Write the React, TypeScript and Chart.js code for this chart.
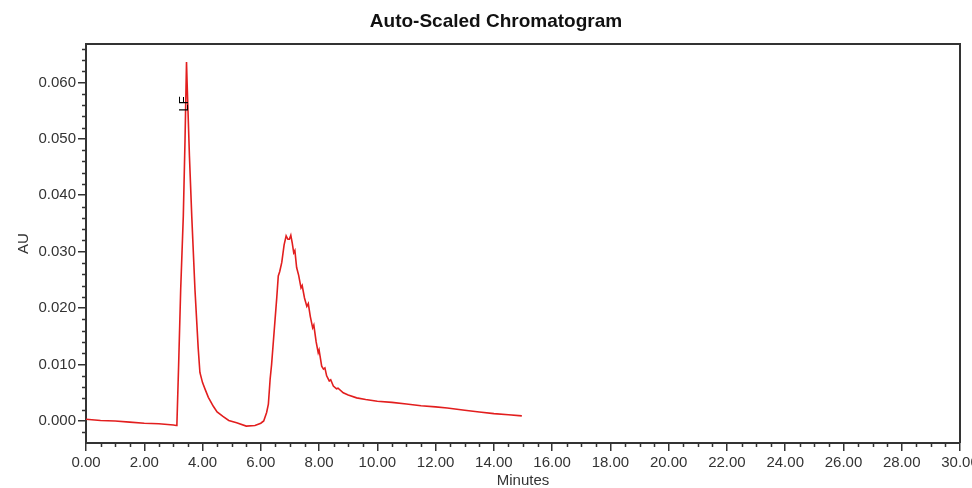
import { useEffect, useRef } from "react";
import { Chart, registerables } from "chart.js";

Chart.register(...registerables);

const TITLE = "Auto-Scaled Chromatogram";
const X_LABEL = "Minutes";
const Y_LABEL = "AU";

const minutes = [
  0.0, 0.5, 1.0, 1.5, 2.0, 2.5, 3.0, 3.1,
  3.12, 3.18, 3.25, 3.34, 3.4, 3.45, 3.47, 3.55, 3.63, 3.74, 3.85, 3.91,
  4.0, 4.09, 4.2, 4.37, 4.5, 4.7, 4.9, 5.17, 5.5, 5.8, 6.0, 6.1,
  6.2, 6.26, 6.32, 6.37, 6.43, 6.49, 6.55, 6.6, 6.65, 6.72, 6.8, 6.87,
  6.93, 6.98, 7.03, 7.08, 7.13, 7.17, 7.23, 7.3, 7.38, 7.42, 7.5, 7.58,
  7.63, 7.7, 7.78, 7.82, 7.9, 7.97, 8.0, 8.09, 8.15, 8.2, 8.26, 8.35,
  8.4, 8.49, 8.6, 8.65, 8.83, 9.0, 9.29, 9.6, 10.0, 10.5, 11.0, 11.5,
  12.0, 12.4, 13.0, 13.5, 14.0, 14.5, 14.96,
];

const au = [
  0.0003, 0.0001, 0.0, -0.0002, -0.0004, -0.0005, -0.0007, -0.0008,
  -0.0006, 0.01, 0.0233, 0.0363, 0.05, 0.0636, 0.06, 0.047, 0.0363, 0.0233, 0.013, 0.0086,
  0.0068, 0.0056, 0.0042, 0.0026, 0.0016, 0.0008, 0.0001, -0.0003, -0.0009, -0.0008, -0.0004, 0.0,
  0.0015, 0.003, 0.0074, 0.01, 0.014, 0.018, 0.022, 0.0257, 0.0265, 0.0281, 0.0312, 0.0328,
  0.0322, 0.0322, 0.0329, 0.0315, 0.0298, 0.0302, 0.0272, 0.0258, 0.0236, 0.024, 0.0218, 0.0203,
  0.0208, 0.0185, 0.0165, 0.017, 0.014, 0.0121, 0.0126, 0.0097, 0.0092, 0.0094, 0.008, 0.0071,
  0.0073, 0.0062, 0.0057, 0.0058, 0.005, 0.0046, 0.0041, 0.0038, 0.0035, 0.0033, 0.003, 0.0027,
  0.0025, 0.0023, 0.0019, 0.0016, 0.0013, 0.0011, 0.0009,
];

const X_MIN = 0;
const X_MAX = 30;
const X_STEP = 2;
const X_MINOR = 0.5;
const Y_MIN = -0.0039;
const Y_MAX = 0.0668;
const Y_STEP = 0.01;
const Y_MINOR = 0.002;

const markLabels = ["LF"];
const markMinutes = [3.38];
const markAu = [0.0562];

const AXIS_COLOR = "#333333";
const LINE_COLOR = "rgb(226, 30, 30)";
const FONT = "'Liberation Sans', Arial, sans-serif";

export default function App() {
  const canvasRef = useRef<HTMLCanvasElement | null>(null);

  useEffect(() => {
    const canvas = canvasRef.current;
    if (!canvas) return;

    const decor = {
      id: "decor",
      afterDraw(chart: any) {
        const ctx = chart.ctx;
        const { left, right, top, bottom } = chart.chartArea;
        const xs = chart.scales.x;
        const ys = chart.scales.y;
        ctx.save();
        ctx.strokeStyle = AXIS_COLOR;
        ctx.lineWidth = 2;
        ctx.beginPath();
        ctx.moveTo(left, top);
        ctx.lineTo(right, top);
        ctx.lineTo(right, bottom);
        ctx.stroke();
        ctx.lineWidth = 1.5;
        // minor x ticks
        ctx.beginPath();
        const nx = Math.round((X_MAX - X_MIN) / X_MINOR);
        for (let i = 0; i <= nx; i++) {
          const v = X_MIN + i * X_MINOR;
          if (Math.abs(v / X_STEP - Math.round(v / X_STEP)) < 1e-6) continue;
          const px = Math.round(xs.getPixelForValue(v)) + 0.5;
          ctx.moveTo(px, bottom);
          ctx.lineTo(px, bottom + 4);
        }
        // minor y ticks
        const startY = Math.ceil(Y_MIN / Y_MINOR);
        const endY = Math.floor(Y_MAX / Y_MINOR);
        for (let k = startY; k <= endY; k++) {
          if (k % 5 === 0) continue;
          const py = Math.round(ys.getPixelForValue(k * Y_MINOR)) + 0.5;
          ctx.moveTo(left, py);
          ctx.lineTo(left - 4, py);
        }
        ctx.stroke();
        // title
        ctx.fillStyle = "#111";
        ctx.font = `bold 19px ${FONT}`;
        ctx.textAlign = "center";
        ctx.textBaseline = "middle";
        ctx.fillText(TITLE, 496, 22);
        // peak marks
        ctx.font = `13px ${FONT}`;
        ctx.fillStyle = "#000";
        for (let i = 0; i < markLabels.length; i++) {
          const px = xs.getPixelForValue(markMinutes[i]);
          const py = ys.getPixelForValue(markAu[i]);
          ctx.save();
          ctx.translate(px, py);
          ctx.rotate(-Math.PI / 2);
          ctx.fillText(markLabels[i], 0, 0);
          ctx.restore();
        }
        ctx.restore();
      },
    };

    const chart = new Chart(canvas, {
      type: "line",
      data: {
        datasets: [
          {
            data: minutes.map((m, i) => ({ x: m, y: au[i] })),
            borderColor: LINE_COLOR,
            borderWidth: 1.6,
            pointRadius: 0,
            tension: 0,
            fill: false,
          },
        ],
      },
      options: {
        animation: false,
        responsive: false,
        devicePixelRatio: 1,
        layout: { padding: { left: 0, right: 12, top: 44, bottom: 0 } },
        plugins: {
          legend: { display: false },
          tooltip: { enabled: false },
          title: { display: false },
        },
        scales: {
          x: {
            type: "linear",
            min: X_MIN,
            max: X_MAX,
            grid: {
              display: true,
              drawOnChartArea: false,
              drawTicks: true,
              tickLength: 8,
              color: AXIS_COLOR,
              lineWidth: 1.5,
            },
            border: { display: true, color: AXIS_COLOR, width: 2 },
            ticks: {
              stepSize: X_STEP,
              includeBounds: false,
              maxRotation: 0,
              autoSkip: false,
              padding: 3,
              color: "#333",
              font: { family: FONT, size: 15 },
              callback: (v: any) => Number(v).toFixed(2),
            },
            title: {
              display: true,
              text: X_LABEL,
              color: "#333",
              font: { family: FONT, size: 15, lineHeight: 1 },
              padding: { top: 0, bottom: 0 },
            },
            afterFit: (s: any) => {
              s.height = 45;
              s.paddingLeft = 0;
              s.paddingRight = 0;
            },
          },
          y: {
            type: "linear",
            min: Y_MIN,
            max: Y_MAX,
            grid: {
              display: true,
              drawOnChartArea: false,
              drawTicks: true,
              tickLength: 8,
              color: AXIS_COLOR,
              lineWidth: 1.5,
            },
            border: { display: true, color: AXIS_COLOR, width: 2 },
            ticks: {
              stepSize: Y_STEP,
              includeBounds: false,
              autoSkip: false,
              padding: 2,
              color: "#333",
              font: { family: FONT, size: 15 },
              callback: (v: any) => Number(v).toFixed(3),
            },
            title: {
              display: true,
              text: Y_LABEL,
              color: "#333",
              font: { family: FONT, size: 15, lineHeight: 1 },
              padding: { top: 16.5, bottom: 0 },
            },
            afterFit: (s: any) => {
              s.width = 86;
              s.paddingTop = 0;
              s.paddingBottom = 0;
            },
          },
        },
      },
      plugins: [decor],
    } as any);

    return () => chart.destroy();
  }, []);

  return (
    <div style={{ position: "absolute", left: 0, top: 0, width: 972, height: 488, background: "#fff" }}>
      <canvas ref={canvasRef} width={972} height={488} />
    </div>
  );
}
